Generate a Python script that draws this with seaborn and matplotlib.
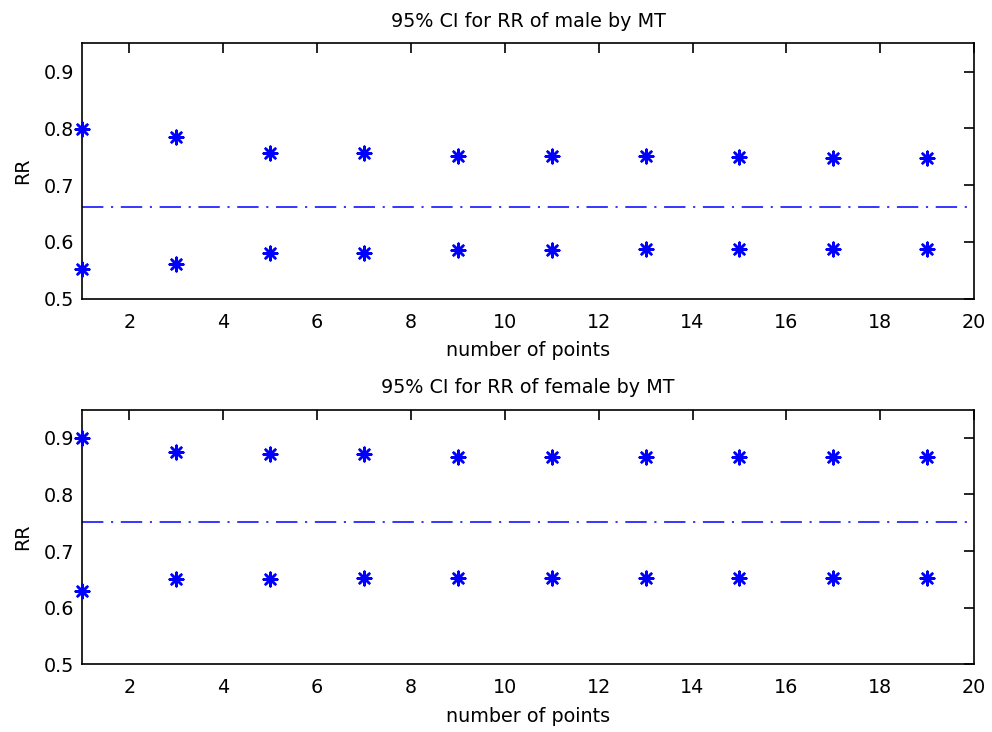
import matplotlib
matplotlib.use("Agg")
import matplotlib.pyplot as plt
import seaborn as sns
import pandas as pd

n_points = [1, 3, 5, 7, 9, 11, 13, 15, 17, 19]
male_upper = [0.798, 0.785, 0.756, 0.756, 0.752, 0.752, 0.751, 0.750, 0.747, 0.747]
male_lower = [0.552, 0.561, 0.581, 0.581, 0.585, 0.585, 0.588, 0.588, 0.588, 0.588]
male_rr = 0.662
female_upper = [0.900, 0.875, 0.871, 0.871, 0.867, 0.867, 0.867, 0.867, 0.867, 0.867]
female_lower = [0.629, 0.650, 0.650, 0.653, 0.653, 0.653, 0.653, 0.653, 0.653, 0.653]
female_rr = 0.752
titles = ["95% CI for RR of male by MT", "95% CI for RR of female by MT"]
xticks = [2, 4, 6, 8, 10, 12, 14, 16, 18, 20]
yticks = [0.5, 0.6, 0.7, 0.8, 0.9]

sns.set_style("white")
plt.rcParams["font.family"] = ["DejaVu Sans"]
plt.rcParams["font.size"] = 13.8
plt.rcParams["text.color"] = "black"
plt.rcParams["axes.labelcolor"] = "black"

FS = 13.8
fig = plt.figure(figsize=(9.92, 7.32), dpi=100)
ax1 = fig.add_axes([0.083, 0.592, 0.899, 0.349])
ax2 = fig.add_axes([0.083, 0.0925, 0.899, 0.348])

panels = [
    (ax1, male_upper, male_lower, male_rr, titles[0]),
    (ax2, female_upper, female_lower, female_rr, titles[1]),
]
for ax, up, lo, rr, title in panels:
    df = pd.DataFrame({"n": n_points * 2, "ci": up + lo})
    sns.scatterplot(data=df, x="n", y="ci", ax=ax, marker=(8, 2, 0), s=95,
                    color="#0000ff", edgecolor="#0000ff", linewidth=1.8,
                    clip_on=False, zorder=3)
    ax.axhline(rr, color="#0000ff", lw=1.1, dashes=(14, 5, 1.4, 5))
    ax.set_xlim(1, 20)
    ax.set_ylim(0.5, 0.95)
    ax.set_xticks(xticks)
    ax.set_yticks(yticks)
    ax.set_yticklabels([f"{v:.1f}" for v in yticks])
    ax.set_xlabel("number of points", fontsize=FS, labelpad=7, color="black")
    ax.set_ylabel("RR", fontsize=FS, labelpad=8, color="black")
    ax.set_title(title, fontsize=FS, pad=12, color="black")
    ax.tick_params(direction="in", length=7, width=1.2, top=True, right=True,
                   labelsize=FS, colors="black")
    ax.tick_params(axis="x", pad=10)
    ax.tick_params(axis="y", pad=6)
    for sp in ax.spines.values():
        sp.set_visible(True)
        sp.set_color("black")
        sp.set_linewidth(1.2)

fig.savefig("out.png", dpi=100, facecolor="white")
